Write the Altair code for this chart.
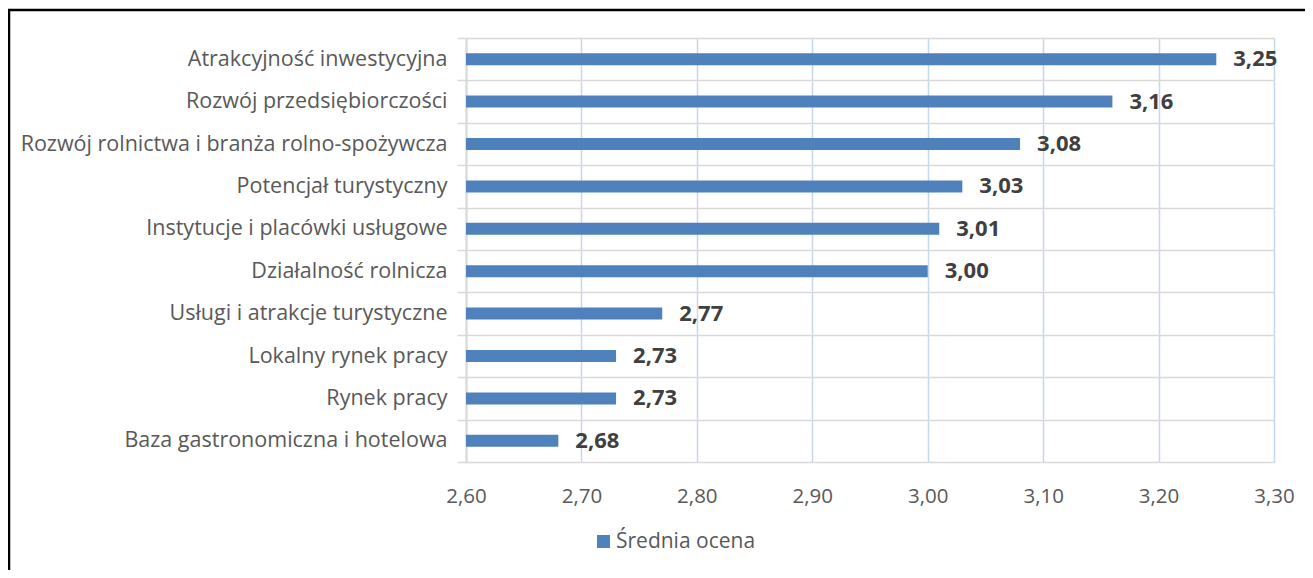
import altair as alt
import pandas as pd

categories = [
    "Atrakcyjność inwestycyjna",
    "Rozwój przedsiębiorczości",
    "Rozwój rolnictwa i branża rolno-spożywcza",
    "Potencjał turystyczny",
    "Instytucje i placówki usługowe",
    "Działalność rolnicza",
    "Usługi i atrakcje turystyczne",
    "Lokalny rynek pracy",
    "Rynek pracy",
    "Baza gastronomiczna i hotelowa",
]
values = [3.25, 3.16, 3.08, 3.03, 3.01, 3.00, 2.77, 2.73, 2.73, 2.68]
series_name = "Średnia ocena"
x_min, x_max = 2.60, 3.30
tick_values = [2.60, 2.70, 2.80, 2.90, 3.00, 3.10, 3.20, 3.30]

df = pd.DataFrame({"kategoria": categories, "wartosc": values, "seria": series_name})

FONT = "Open Sans"
BLUE = "#4f81bd"

y_enc = alt.Y(
    "kategoria:N",
    sort=categories,
    title=None,
    scale=alt.Scale(paddingInner=0, paddingOuter=0),
    axis=alt.Axis(
        tickBand="extent",
        grid=True,
        gridColor="#d9d9d9",
        gridWidth=1.5,
        domainColor="#d9d9d9",
        domainWidth=2,
        tickColor="#d9d9d9",
        tickWidth=1.5,
        tickSize=9,
        labelPadding=10,
        labelFont=FONT,
        labelFontSize=21.5,
        labelColor="#595959",
        labelLimit=600,
    ),
)

x_scale = alt.Scale(domain=[x_min, x_max], zero=False, nice=False)

bars = alt.Chart(df).mark_bar(size=12).encode(
    y=y_enc,
    x=alt.X(
        "wartosc:Q",
        scale=x_scale,
        title=None,
        axis=alt.Axis(
            values=tick_values,
            domain=False,
            ticks=False,
            grid=True,
            gridColor="#c6d8ee",
            gridWidth=1.5,
            labelPadding=24,
            labelFlush=False,
            labelFont=FONT,
            labelFontSize=20.5,
            labelColor="#595959",
            labelExpr="replace(format(datum.value, '.2f'), '.', ',')",
        ),
    ),
    x2=alt.datum(x_min),
    color=alt.Color(
        "seria:N",
        scale=alt.Scale(domain=[series_name], range=[BLUE]),
        legend=alt.Legend(
            title=None,
            orient="none",
            legendX=127,
            legendY=493,
            symbolType="square",
            symbolSize=169,
            symbolStrokeWidth=0,
            labelFont=FONT,
            labelFontSize=21,
            labelColor="#595959",
            labelOffset=2,
            padding=0,
        ),
    ),
)

labels = alt.Chart(df).transform_calculate(
    etykieta="replace(format(datum.wartosc, '.2f'), '.', ',')"
).mark_text(
    align="left", baseline="middle", dx=17, font=FONT, fontSize=22,
    fontWeight="bold", color="#404040"
).encode(
    y=alt.Y("kategoria:N", sort=categories),
    x=alt.X("wartosc:Q", scale=x_scale),
    text="etykieta:N",
)

border = alt.Chart(pd.DataFrame({"a": [0]})).mark_rect(
    fill=None, stroke="#000000", strokeWidth=2.5
).encode(
    x=alt.value(-457), x2=alt.value(1000), y=alt.value(-28), y2=alt.value(700)
)

chart = alt.layer(bars, labels, border).properties(
    width=808,
    height=424,
    autosize=alt.AutoSizeParams(type="none"),
    padding={"left": 458, "top": 30, "right": 31, "bottom": 108},
).configure_view(stroke=None).configure(background="#ffffff")

chart.save("out.html", embed_options={"renderer": "svg", "actions": False})
